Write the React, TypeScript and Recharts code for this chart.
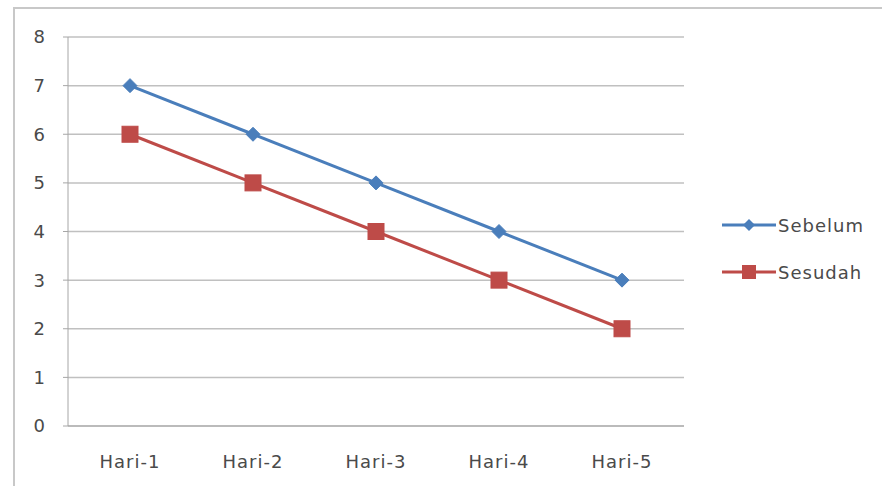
import * as React from "react";
import { LineChart, Line, XAxis, YAxis, CartesianGrid } from "recharts";

const categories = ["Hari-1", "Hari-2", "Hari-3", "Hari-4", "Hari-5"];
const sebelum = [7, 6, 5, 4, 3];
const sesudah = [6, 5, 4, 3, 2];
const yTicks = [0, 1, 2, 3, 4, 5, 6, 7, 8];

const BLUE = "#4a7ebb";
const RED = "#be4b48";
const FONT = "'DejaVu Sans', 'Liberation Sans', sans-serif";
const TEXT = "#4a4a4a";

const data = categories.map((name, i) => ({
  name,
  sebelum: sebelum[i],
  sesudah: sesudah[i],
}));

// diamond marker for Sebelum
const Diamond = (props: any) => {
  const { cx, cy } = props;
  if (cx == null || cy == null) return null;
  const r = 7;
  return (
    <path
      d={`M${cx},${cy - r} L${cx + r},${cy} L${cx},${cy + r} L${cx - r},${cy} Z`}
      fill={BLUE}
      stroke={BLUE}
    />
  );
};

// square marker for Sesudah
const Square = (props: any) => {
  const { cx, cy } = props;
  if (cx == null || cy == null) return null;
  const s = 8;
  return <rect x={cx - s} y={cy - s} width={s * 2} height={s * 2} fill={RED} stroke={RED} />;
};

function LegendItem({ color, label, square }: { color: string; label: string; square?: boolean }) {
  return (
    <div style={{ display: "flex", alignItems: "center", height: 22 }}>
      <svg width={54} height={18}>
        <line x1={0} y1={9} x2={54} y2={9} stroke={color} strokeWidth={3} />
        {square ? (
          <rect x={20} y={2} width={14} height={14} fill={color} />
        ) : (
          <path d="M27,3 L33,9 L27,15 L21,9 Z" fill={color} />
        )}
      </svg>
      <span style={{ fontSize: 18, color: TEXT, marginLeft: 2, letterSpacing: 1 }}>{label}</span>
    </div>
  );
}

export default function App() {
  return (
    <div style={{ position: "absolute", left: 0, top: 0, width: 882, height: 486, background: "#fff", fontFamily: FONT }}>
      <div
        style={{
          position: "absolute",
          left: 13,
          top: 7,
          width: 869,
          height: 479,
          borderLeft: "2px solid #c8c8c8",
          borderTop: "2px solid #c8c8c8",
          boxSizing: "border-box",
        }}
      />
      <LineChart
        width={882}
        height={486}
        data={data}
        margin={{ top: 37, right: 198, bottom: 0, left: 0 }}
        style={{ position: "absolute", left: 0, top: 0 }}
      >
        <CartesianGrid vertical={false} stroke="#c0c0c0" strokeWidth={1.5} />
        <XAxis
          dataKey="name"
          height={60}
          padding={{ left: 62, right: 62 }}
          stroke="#a6a6a6"
          tickLine={false}
          tickSize={5}
          tickMargin={24}
          tick={{ fontSize: 18, fill: TEXT, fontFamily: FONT, letterSpacing: 1 }}
        />
        <YAxis
          width={68}
          domain={[0, 8]}
          ticks={yTicks}
          interval={0}
          stroke="#a6a6a6"
          tickSize={5}
          tickMargin={18}
          tick={{ fontSize: 18, fill: TEXT, fontFamily: FONT }}
        />
        <Line
          dataKey="sebelum"
          name="Sebelum"
          stroke={BLUE}
          strokeWidth={3}
          dot={<Diamond />}
          activeDot={false}
          isAnimationActive={false}
        />
        <Line
          dataKey="sesudah"
          name="Sesudah"
          stroke={RED}
          strokeWidth={3}
          dot={<Square />}
          activeDot={false}
          isAnimationActive={false}
        />
      </LineChart>
      <div style={{ position: "absolute", left: 722, top: 214, display: "flex", flexDirection: "column", gap: 25 }}>
        <LegendItem color={BLUE} label="Sebelum" />
        <LegendItem color={RED} label="Sesudah" square />
      </div>
    </div>
  );
}
